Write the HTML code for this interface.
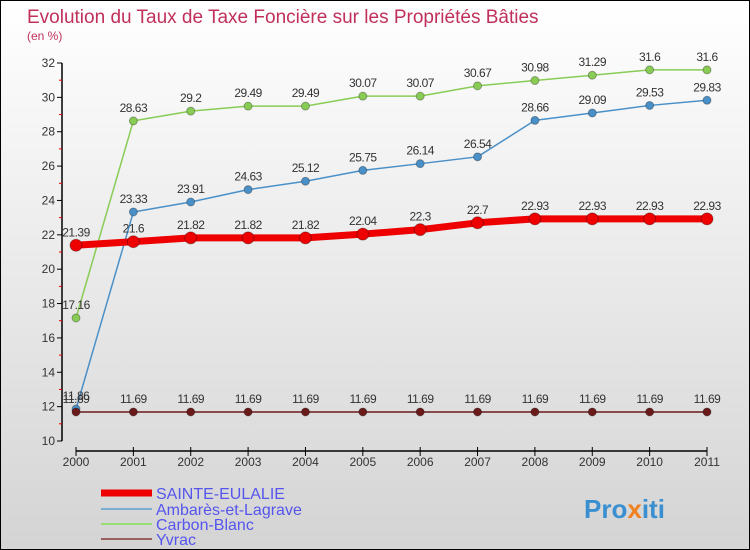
<!DOCTYPE html>
<html><head><meta charset="utf-8"><style>
body{margin:0}
#c{width:750px;height:550px;position:relative;box-sizing:border-box;border:1px solid #000;background:linear-gradient(#ffffff,#d4d4d4);overflow:hidden;font-family:"Liberation Sans",sans-serif}
</style></head><body>
<div id="c">
<svg id="s" width="750" height="550" style="position:absolute;left:0;top:0">
<text x="26" y="22" font-size="19" fill="#c0305a">Evolution du Taux de Taxe Foncière sur les Propriétés Bâties</text>
<text x="26" y="39" font-size="12" fill="#c0305a">(en %)</text>
<g id="axes"></g><g id="series"></g><g id="legend"></g>
<text x="583" y="517" font-size="26" font-weight="bold" fill="#3a8fd0">Pro<tspan fill="#f08020">x</tspan>iti</text>
</svg>
</div>
<script>
const years=["2000","2001","2002","2003","2004","2005","2006","2007","2008","2009","2010","2011"];
const yTicks=[10,12,14,16,18,20,22,24,26,28,30,32];
const sainteEulalie=[21.39,21.6,21.82,21.82,21.82,22.04,22.3,22.7,22.93,22.93,22.93,22.93];
const ambares=[11.86,23.33,23.91,24.63,25.12,25.75,26.14,26.54,28.66,29.09,29.53,29.83];
const carbonBlanc=[17.16,28.63,29.2,29.49,29.49,30.07,30.07,30.67,30.98,31.29,31.6,31.6];
const yvrac=[11.69,11.69,11.69,11.69,11.69,11.69,11.69,11.69,11.69,11.69,11.69,11.69];
const NS="http://www.w3.org/2000/svg";
const X=i=>75+i*(706-75)/11;
const Y=v=>440-(v-10)*(440-62)/22;
function mk(t,a,p){const e=document.createElementNS(NS,t);for(const k in a)e.setAttribute(k,a[k]);p.appendChild(e);return e;}
const ax=document.getElementById('axes');
let l=mk('line',{x1:61,y1:Y(32),x2:61,y2:Y(10),stroke:'#000','stroke-width':1.5},ax);


yTicks.forEach(v=>{
 mk('line',{x1:56,y1:Y(v),x2:61,y2:Y(v),stroke:'#000'},ax);
 if(v<32)mk('line',{x1:58,y1:Y(v+1),x2:61,y2:Y(v+1),stroke:'#e00'},ax);
 const t=mk('text',{x:54,y:Y(v)+4,'font-size':12,fill:'#333','text-anchor':'end'},ax);t.textContent=v;
 
 
});
l=mk('line',{x1:75,y1:450,x2:706,y2:450,stroke:'#000','stroke-width':1.5},ax);


years.forEach((y,i)=>{
 mk('line',{x1:X(i),y1:450,x2:X(i),y2:455,stroke:'#000'},ax);
 mk('line',{x1:X(i),y1:446,x2:X(i),y2:450,stroke:'#000'},ax);
 const t=mk('text',{x:X(i),y:465,'font-size':12,fill:'#333','text-anchor':'middle'},ax);t.textContent=y;
 
 
});
const sg=document.getElementById('series');
function draw(data,color,w,r,name){
 const g=mk('g',{},sg);
 
 
 mk('polyline',{points:data.map((v,i)=>X(i)+','+Y(v)).join(' '),fill:'none',stroke:color,'stroke-width':w,'stroke-linejoin':'round'},g);
 data.forEach((v,i)=>{
  const c=mk('circle',{cx:X(i),cy:Y(v),r:r,fill:color,stroke:'rgba(0,0,0,0.3)'},g);
  
  
  const t=mk('text',{x:X(i),y:Y(v)-9,'font-size':12,fill:'#333','text-anchor':'middle','letter-spacing':'-0.5'},g);t.textContent=v;
  
  
 });
}
draw(carbonBlanc,'#88cc55',1.5,4,'carbon-blanc-series');
draw(ambares,'#4a90c8',1.5,4,'ambares-series');
draw(yvrac,'#6b1a1a',1.5,4,'yvrac-series');
draw(sainteEulalie,'#ee0000',7,6,'sainte-eulalie-series');
const lg=document.getElementById('legend');
[["SAINTE-EULALIE","#ee0000",7,492],["Ambarès-et-Lagrave","#7aaed0",2,508],["Carbon-Blanc","#99dd77",2,523],["Yvrac","#9a6060",2,538]].forEach(e=>{
 const g=mk('g',{},lg);
 
 
 mk('line',{x1:100,y1:e[3],x2:151,y2:e[3],stroke:e[1],'stroke-width':e[2]},g);
 const t=mk('text',{x:155,y:e[3]+6,'font-size':16,fill:'#5555ee'},g);t.textContent=e[0];
});
</script>
</body></html>
